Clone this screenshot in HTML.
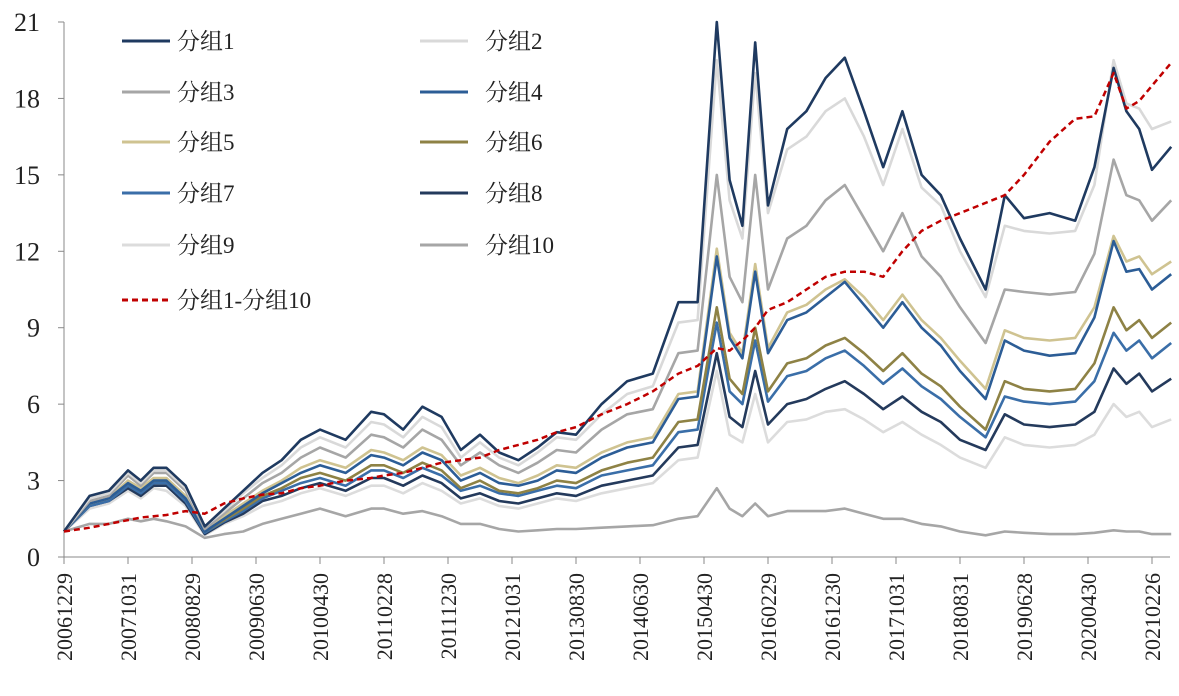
<!DOCTYPE html>
<html><head><meta charset="utf-8">
<style>
html,body{margin:0;padding:0;background:#fff;}
svg{display:block;font-family:"Liberation Serif","Noto Serif CJK SC",serif;}
</style></head>
<body>
<svg id="chart" width="1179" height="696" viewBox="0 0 1179 696" xmlns="http://www.w3.org/2000/svg">
<g id="axes"></g><g id="series"></g><g id="legend"></g>
</svg>
<script>
const months=[0,4,7,10,12,14,16,19,22,25,28,31,34,37,40,44,48,50,53,56,59,62,65,68,71,74,77,80,84,88,92,96,99,102,104,106,108,110,113,116,119,122,125,128,131,134,137,140,144,147,150,154,158,161,164,166,168,170,173];
const xTickLabels=["20061229","20071031","20080829","20090630","20100430","20110228","20111230","20121031","20130830","20140630","20150430","20160229","20161230","20171031","20180831","20190628","20200430","20210226"];
const yTicks=[0,3,6,9,12,15,18,21];
const g1=[1,2.4,2.6,3.4,3.0,3.5,3.5,2.8,1.2,1.9,2.6,3.3,3.8,4.6,5.0,4.6,5.7,5.6,5.0,5.9,5.5,4.2,4.8,4.1,3.8,4.3,4.9,4.8,6.0,6.9,7.2,10.0,10.0,21,14.8,13,20.2,13.8,16.8,17.5,18.8,19.6,17.5,15.3,17.5,15,14.2,12.5,10.5,14.2,13.3,13.5,13.2,15.3,19.2,17.5,16.8,15.2,16.1];
const g2=[1,2.3,2.5,3.3,2.9,3.4,3.4,2.7,1.2,1.8,2.5,3.1,3.6,4.3,4.7,4.3,5.3,5.2,4.7,5.5,5.1,3.9,4.5,3.9,3.6,4.1,4.7,4.6,5.6,6.4,6.7,9.2,9.3,19.5,14,12.5,19,13.5,16,16.5,17.5,18,16.5,14.6,16.8,14.5,13.8,12,10.2,13,12.8,12.7,12.8,14.6,19.5,17.8,17.6,16.8,17.1];
const g3=[1,2.2,2.4,3.2,2.8,3.3,3.3,2.6,1.1,1.7,2.3,2.9,3.3,3.9,4.3,3.9,4.8,4.7,4.3,5.0,4.6,3.6,4.1,3.6,3.3,3.7,4.2,4.1,5.0,5.6,5.8,8.0,8.1,15,11,10,15,10.5,12.5,13,14,14.6,13.3,12,13.5,11.8,11,9.8,8.4,10.5,10.4,10.3,10.4,11.9,15.6,14.2,14,13.2,14];
const g4=[1,2.1,2.3,2.9,2.6,3.0,3.0,2.3,1.0,1.5,2.0,2.5,2.9,3.3,3.6,3.3,4.0,3.9,3.6,4.1,3.8,3.0,3.3,2.9,2.8,3.0,3.4,3.3,3.9,4.3,4.5,6.2,6.3,11.8,8.6,7.8,11.2,8.0,9.3,9.6,10.2,10.8,9.9,9.0,10.0,9.0,8.3,7.3,6.2,8.5,8.1,7.9,8.0,9.4,12.4,11.2,11.3,10.5,11.1];
const g5=[1,2.1,2.3,3.0,2.7,3.1,3.1,2.4,1.05,1.6,2.1,2.6,3.0,3.5,3.8,3.5,4.2,4.1,3.8,4.3,4.0,3.2,3.5,3.1,2.9,3.2,3.6,3.5,4.1,4.5,4.7,6.4,6.5,12.1,8.8,8.0,11.5,8.2,9.6,9.9,10.5,10.9,10.2,9.3,10.3,9.3,8.6,7.7,6.6,8.9,8.6,8.5,8.6,9.8,12.6,11.6,11.8,11.1,11.6];
const g6=[1,2.1,2.3,2.9,2.6,3.0,3.0,2.3,1.0,1.45,1.9,2.4,2.7,3.1,3.3,3.0,3.6,3.6,3.3,3.7,3.4,2.7,3.0,2.6,2.5,2.7,3.0,2.9,3.4,3.7,3.9,5.3,5.4,9.8,7.0,6.4,9.0,6.5,7.6,7.8,8.3,8.6,8.0,7.3,8.0,7.2,6.7,5.9,5.0,6.9,6.6,6.5,6.6,7.6,9.8,8.9,9.3,8.6,9.2];
const g7=[1,2.0,2.2,2.8,2.5,2.9,2.9,2.2,0.95,1.4,1.8,2.3,2.6,2.9,3.1,2.8,3.4,3.4,3.1,3.5,3.2,2.6,2.8,2.5,2.4,2.6,2.8,2.7,3.2,3.4,3.6,4.9,5.0,9.2,6.5,6.0,8.5,6.1,7.1,7.3,7.8,8.1,7.5,6.8,7.4,6.7,6.2,5.5,4.7,6.3,6.1,6.0,6.1,6.9,8.8,8.1,8.5,7.8,8.4];
const g8=[1,2.0,2.2,2.7,2.4,2.8,2.8,2.1,0.9,1.35,1.7,2.2,2.4,2.7,2.9,2.6,3.1,3.1,2.8,3.2,2.9,2.3,2.5,2.2,2.1,2.3,2.5,2.4,2.8,3.0,3.2,4.3,4.4,8.0,5.5,5.1,7.3,5.2,6.0,6.2,6.6,6.9,6.4,5.8,6.3,5.7,5.3,4.6,4.2,5.6,5.2,5.1,5.2,5.7,7.4,6.8,7.2,6.5,7.0];
const g9=[1,1.9,2.1,2.6,2.3,2.7,2.6,2.0,0.85,1.3,1.6,2.0,2.2,2.5,2.7,2.4,2.8,2.8,2.5,2.9,2.6,2.1,2.3,2.0,1.9,2.1,2.3,2.2,2.5,2.7,2.9,3.8,3.9,7.3,4.8,4.5,6.4,4.5,5.3,5.4,5.7,5.8,5.4,4.9,5.3,4.8,4.4,3.9,3.5,4.7,4.4,4.3,4.4,4.8,6.0,5.5,5.7,5.1,5.4];
const g10=[1,1.3,1.3,1.5,1.4,1.5,1.4,1.2,0.75,0.9,1.0,1.3,1.5,1.7,1.9,1.6,1.9,1.9,1.7,1.8,1.6,1.3,1.3,1.1,1.0,1.05,1.1,1.1,1.15,1.2,1.25,1.5,1.6,2.7,1.9,1.6,2.1,1.6,1.8,1.8,1.8,1.9,1.7,1.5,1.5,1.3,1.2,1.0,0.85,1.0,0.95,0.9,0.9,0.95,1.05,1.0,1.0,0.9,0.9];
const diff=[1,1.15,1.3,1.45,1.55,1.6,1.65,1.8,1.7,2.1,2.3,2.45,2.5,2.7,2.8,3.0,3.1,3.2,3.3,3.5,3.7,3.8,3.9,4.2,4.4,4.6,4.9,5.1,5.6,6.0,6.5,7.2,7.5,8.2,8.1,8.5,9.0,9.7,10.0,10.5,11.0,11.2,11.2,11.0,12.0,12.8,13.2,13.5,13.9,14.2,15.0,16.3,17.2,17.3,19.0,17.6,17.9,18.5,19.4];
const seriesNames=["分组1","分组2","分组3","分组4","分组5","分组6","分组7","分组8","分组9","分组10","分组1-分组10"];
const seriesData=[g1,g2,g3,g4,g5,g6,g7,g8,g9,g10,diff];
const colors=["#1f3a60","#d9d9d9","#a6a6a6","#2c5d96","#cfc391","#8e8245","#3a6ea8","#243a5c","#dcdcdc","#a6a6a6","#c00000"];

const NS="http://www.w3.org/2000/svg";
const X0=64,PXM=6.4,Y0=557,PXU=(557-22)/21;
const xs=m=>X0+m*PXM, ys=v=>Y0-v*PXU;
function mk(tag,attrs,parent){const e=document.createElementNS(NS,tag);for(const k in attrs)e.setAttribute(k,attrs[k]);parent.appendChild(e);return e;}
const axes=document.getElementById('axes');
let a=mk('line',{x1:X0,y1:22,x2:X0,y2:Y0,stroke:'#888','stroke-width':1},axes);


a=mk('line',{x1:X0,y1:Y0,x2:1170,y2:Y0,stroke:'#888','stroke-width':1},axes);


yTicks.forEach(v=>{
  const t=mk('text',{x:40,y:ys(v)+9,'text-anchor':'end','font-size':26,fill:'#222'},axes);
  t.textContent=v;
  
  
  mk('line',{x1:X0-6,y1:ys(v),x2:X0,y2:ys(v),stroke:'#888'},axes);
});
xTickLabels.forEach((l,i)=>{
  const x=xs(i*10);
  mk('line',{x1:x,y1:Y0,x2:x,y2:Y0+7,stroke:'#888'},axes);
  const t=mk('text',{x:0,y:0,transform:`translate(${x+8},573) rotate(-90)`,'text-anchor':'end','font-size':22,fill:'#222'},axes);
  t.textContent=l;
  
  
});
const sg=document.getElementById('series');
[9,8,7,6,5,4,3,2,1,0,10].forEach(i=>{
  const d=seriesData[i].map((v,k)=>(k?'L':'M')+xs(months[k]).toFixed(1)+','+ys(v).toFixed(1)).join('');
  const p=mk('path',{d:d,fill:'none',stroke:colors[i],'stroke-width':i==10?2.5:2.6,'stroke-linejoin':'round'},sg);
  if(i==10)p.setAttribute('stroke-dasharray','6,4');
  
  
});
const lg=document.getElementById('legend');
const rows=[41,92,142,193,245,298];
seriesNames.forEach((n,i)=>{
  const col=i<10?i%2:0, row=i<10?Math.floor(i/2):6;
  const y=row<6?rows[row]:300, x=col?420:122;
  const l=mk('line',{x1:x,y1:y,x2:x+48,y2:y,stroke:colors[i],'stroke-width':3},lg);
  if(i==10)l.setAttribute('stroke-dasharray','6,4');
  
  
  const t=mk('text',{x:col?485:177,y:y+8,'font-size':23,fill:'#222'},lg);
  t.textContent=n;
  
  
});
</script>
</body></html>
